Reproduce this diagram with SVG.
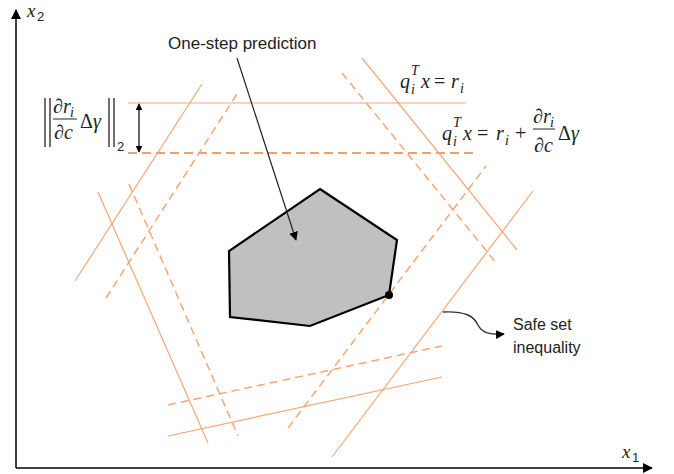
<svg xmlns="http://www.w3.org/2000/svg" width="674" height="474" viewBox="0 0 674 474">
<style>
.sol{stroke:#f5a677;stroke-width:1.2;fill:none}
.dsh{stroke:#f5a677;stroke-width:1.5;fill:none;stroke-dasharray:8 5}
.dshd{stroke:#e9803f;stroke-width:1.3;fill:none;stroke-dasharray:9 5}
.ax{stroke:#000;stroke-width:1.5;fill:none}
.lbl{font-family:"Liberation Sans",Arial,sans-serif;font-size:16px;fill:#222}
.m{font-family:"Liberation Serif","Times New Roman",serif;font-style:italic;font-size:20px;fill:#222}
.mu{font-family:"Liberation Serif","Times New Roman",serif;font-size:20px;fill:#222}
.ms{font-family:"Liberation Serif","Times New Roman",serif;font-style:italic;font-size:14px;fill:#222}
.msu{font-family:"Liberation Sans",Arial,sans-serif;font-size:13px;fill:#222}
</style>
<defs>
<marker id="ah" viewBox="0 0 10 10" refX="9" refY="5" markerWidth="9" markerHeight="9" markerUnits="userSpaceOnUse" orient="auto">
<path d="M0,0 L10,5 L0,10 z" fill="#000"/>
</marker>
<marker id="ahs" viewBox="0 0 10 10" refX="9" refY="5" markerWidth="7" markerHeight="7" markerUnits="userSpaceOnUse" orient="auto-start-reverse">
<path d="M0,0 L10,5 L0,10 z" fill="#000"/>
</marker>
<marker id="ahb" viewBox="0 0 10 10" refX="9" refY="5" markerWidth="12" markerHeight="10" markerUnits="userSpaceOnUse" orient="auto">
<path d="M0,0 L10,5 L0,10 z" fill="#000"/>
</marker>
</defs>

<g id="axes">
<line class="ax" x1="16" y1="468" x2="16" y2="10" marker-end="url(#ahb)"/>
<line class="ax" x1="16" y1="468" x2="652" y2="468" marker-end="url(#ahb)"/>
<text class="m" x="27" y="17" style="font-size:19px">x</text><text class="msu" x="37" y="21">2</text>
<text class="m" x="622" y="458" style="font-size:19px">x</text><text class="msu" x="632" y="462">1</text>
</g>

<g id="constraint-lines">
<line class="sol" x1="128" y1="103" x2="466" y2="103"/>
<line class="dshd" x1="128" y1="153" x2="476" y2="153"/>
<line class="sol" x1="75" y1="281" x2="202" y2="84"/>
<line class="dsh" x1="106" y1="298" x2="237" y2="94"/>
<line class="sol" x1="98" y1="192" x2="208" y2="443"/>
<line class="dsh" x1="129" y1="184" x2="238" y2="436"/>
<line class="sol" x1="168" y1="436" x2="442" y2="377"/>
<line class="dsh" x1="168" y1="405" x2="442" y2="346"/>
<line class="dsh" x1="288" y1="428" x2="486" y2="166"/>
<line class="sol" x1="332" y1="457" x2="533" y2="191"/>
<line class="sol" x1="362" y1="58" x2="517" y2="250"/>
<line class="dsh" x1="342" y1="73" x2="497" y2="264"/>
</g>

<g id="prediction-set">
<polygon points="320,189 397,240 389,295 310,326 230,317 229,251" fill="#c0c0c0" stroke="#000" stroke-width="2.2" stroke-linejoin="miter"/>
<circle cx="389" cy="295" r="4" fill="#000"/>
</g>

<g id="label-prediction">
<text class="lbl" x="168" y="49" style="font-size:17px">One-step prediction</text>
</g>

<g id="label-safe-set">
<text class="lbl" x="513" y="330">Safe set</text>
<text class="lbl" x="513" y="353">inequality</text>
</g>

<g id="label-eq1">
<text class="m" x="400" y="88">q</text>
<text class="ms" x="411" y="75">T</text>
<text class="ms" x="411" y="94">i</text>
<text class="m" x="421" y="88">x</text>
<text class="mu" x="434" y="88">=</text>
<text class="m" x="451" y="88">r</text>
<text class="ms" x="460" y="93">i</text>
</g>

<g id="label-eq2">
<text class="m" x="442" y="140">q</text>
<text class="ms" x="453" y="127">T</text>
<text class="ms" x="453" y="146">i</text>
<text class="m" x="463" y="140">x</text>
<text class="mu" x="477" y="140">=</text>
<text class="m" x="496" y="140">r</text>
<text class="ms" x="505" y="145">i</text>
<text class="mu" x="515" y="140">+</text>
<text class="m" x="533" y="123">∂r</text>
<text class="ms" x="550" y="127">i</text>
<line x1="533" y1="129" x2="555" y2="129" stroke="#222" stroke-width="1"/>
<text class="m" x="534" y="152">∂c</text>
<text class="mu" x="558" y="140">Δ</text>
<text class="m" x="571" y="140">γ</text>
</g>

<g id="label-norm">
<line x1="45" y1="98" x2="45" y2="147" stroke="#222" stroke-width="1.3"/>
<line x1="50" y1="98" x2="50" y2="147" stroke="#222" stroke-width="1.3"/>
<text class="m" x="53" y="113">∂r</text>
<text class="ms" x="70" y="117">i</text>
<line x1="53" y1="119" x2="77" y2="119" stroke="#222" stroke-width="1"/>
<text class="m" x="54" y="139">∂c</text>
<text class="mu" x="80" y="128">Δ</text>
<text class="m" x="93" y="128">γ</text>
<line x1="109" y1="98" x2="109" y2="147" stroke="#222" stroke-width="1.3"/>
<line x1="114" y1="98" x2="114" y2="147" stroke="#222" stroke-width="1.3"/>
<text class="msu" x="117" y="151">2</text>
</g>

<g id="connectors">
<line x1="237" y1="58" x2="296" y2="240" stroke="#222" stroke-width="1.2" marker-end="url(#ah)"/>
<path d="M443,312 C465,311 474,316 478,325 C482,333 490,335 504,334" stroke="#333" stroke-width="1.4" fill="none" marker-end="url(#ah)"/>
<line x1="139" y1="104" x2="139" y2="152" stroke="#000" stroke-width="1.2" marker-start="url(#ahs)" marker-end="url(#ahs)"/>
</g>
</svg>
